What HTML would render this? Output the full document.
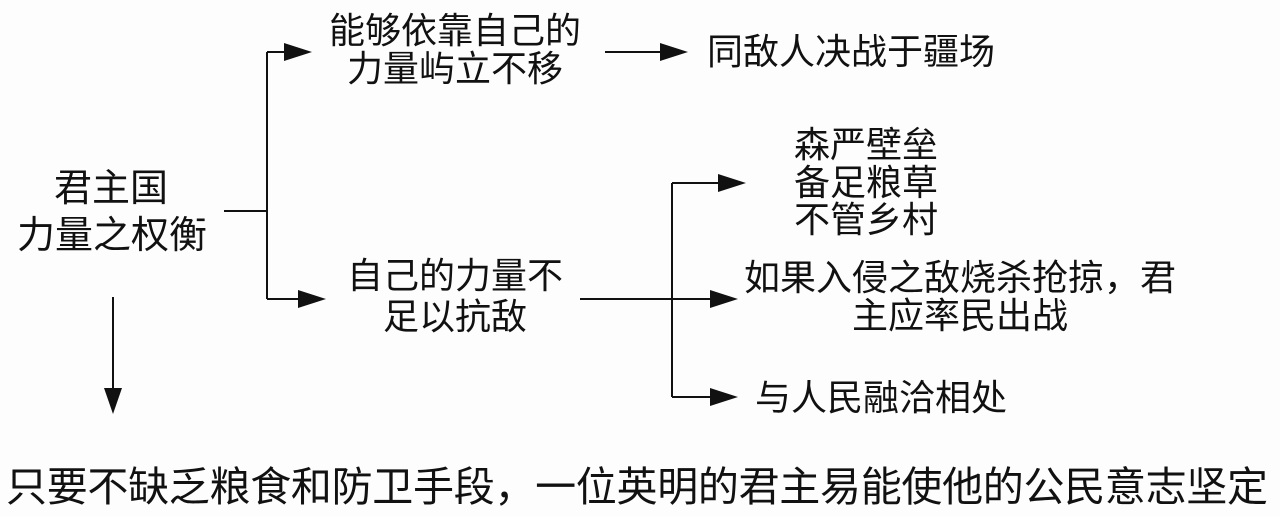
<!DOCTYPE html>
<html><head><meta charset="utf-8"><style>
html,body{margin:0;padding:0;background:#fdfdfd;}
svg{display:block}
text{font-family:"Liberation Sans","Noto Sans CJK SC",sans-serif;fill:#111;}
</style></head><body>
<svg width="1280" height="517" viewBox="0 0 1280 517" xmlns="http://www.w3.org/2000/svg">
<g stroke="#111" stroke-width="2" fill="none">
<path d="M224 211H267M267 52V299M267 52H290M267 299H305"/>
<path d="M605 52H665"/>
<path d="M580 299H715M672 183V397M672 183H722M672 397H715"/>
<path d="M113 297V395"/>
</g>
<g fill="#111">
<path d="M284 43L312 52L284 61Z"/>
<path d="M298 290L326 299L298 308Z"/>
<path d="M660 43L688 52L660 61Z"/>
<path d="M718 174L746 183L718 192Z"/>
<path d="M710 290L738 299L710 308Z"/>
<path d="M710 388L738 397L710 406Z"/>
<path d="M104 388L113 414L122 388Z"/>
</g>
<g font-size="38" text-anchor="middle">
<text x="111" y="201">君主国</text>
<text x="112" y="248">力量之权衡</text>
</g>
<g font-size="36" text-anchor="middle">
<text x="455" y="43">能够依靠自己的</text>
<text x="455" y="81">力量屿立不移</text>
<text x="851" y="64">同敌人决战于疆场</text>
<text x="455" y="288">自己的力量不</text>
<text x="455" y="329">足以抗敌</text>
<text x="866" y="157">森严壁垒</text>
<text x="866" y="195">备足粮草</text>
<text x="866" y="232">不管乡村</text>
<text x="960" y="290">如果入侵之敌烧杀抢掠，君</text>
<text x="960" y="328">主应率民出战</text>
<text x="881" y="410">与人民融洽相处</text>
</g>
<text x="637" y="501" font-size="41" text-anchor="middle" textLength="1262">只要不缺乏粮食和防卫手段，一位英明的君主易能使他的公民意志坚定</text>
</svg>
</body></html>
